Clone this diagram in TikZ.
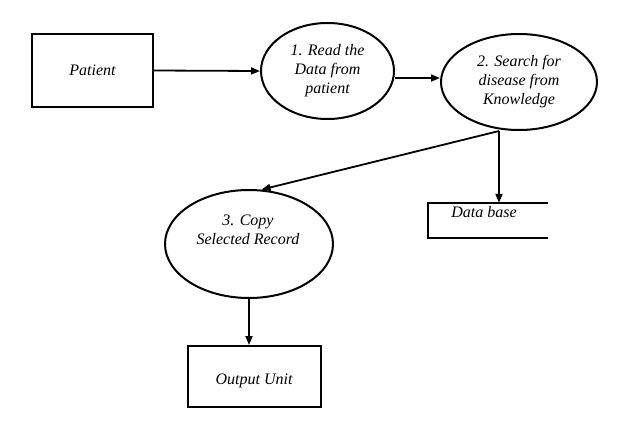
\documentclass[tikz,border=0pt]{standalone}
\usepackage{fontspec}
\setmainfont{Liberation Serif}
\usetikzlibrary{arrows.meta,calc,shapes.geometric}
\begin{document}
\begin{tikzpicture}[x=1pt,y=-1pt,
  every node/.style={font=\fontsize{16}{19}\selectfont\itshape},
  box/.style={draw,line width=2pt,rectangle,inner sep=0pt},
  proc/.style={draw,line width=2pt,ellipse,inner sep=0pt,align=center},
  store/.style={rectangle,inner sep=0pt},
  lbl/.style={inner sep=0pt,align=center},
  arr/.style={line width=1.8pt,-{Triangle[length=9pt,width=7pt]}}
]
\fill[white] (0,0) rectangle (619,423);
\useasboundingbox (0,0) rectangle (619,423);

\node[box,minimum width=121pt,minimum height=73pt] (pat) at (92.5,70.5) {Patient};
\node[proc,minimum width=133pt,minimum height=96pt] (e1) at (327.5,71) {1. Read the\\Data from\\patient};
\node[proc,minimum width=156pt,minimum height=96pt] (e2) at (519,82) {2. Search for\\disease from\\Knowledge};
\node[proc,minimum width=168pt,minimum height=108pt] (e3) at (249,244) {};
\node[lbl] (t3) at (248,229.5) {3. Copy\\Selected Record};
\node[store,minimum width=120pt,minimum height=35pt] (db) at (488,220.5) {};
\draw[line width=2pt] (db.north east) -- (db.north west) -- (db.south west) -- (db.south east);
\node[lbl] (tdb) at (484,212.5) {Data base};
\node[box,minimum width=133pt,minimum height=61pt] (out) at (254.5,376.5) {};
\node[lbl] (tout) at (254,381) {Output Unit};

\draw[arr] (pat.east) -- (e1.west);
\draw[arr] ([yshift=-7pt]e1.east) -- ([yshift=-7pt]e1.east -| e2.west);
\draw[arr] ([xshift=-20pt]e2.south) -- (e3.77);
\draw[arr] ([xshift=-20pt]e2.south) -- ([xshift=-20pt]e2.south |- db.north);
\draw[arr] (e3.south) -- (e3.south |- out.north);
\end{tikzpicture}
\end{document}
